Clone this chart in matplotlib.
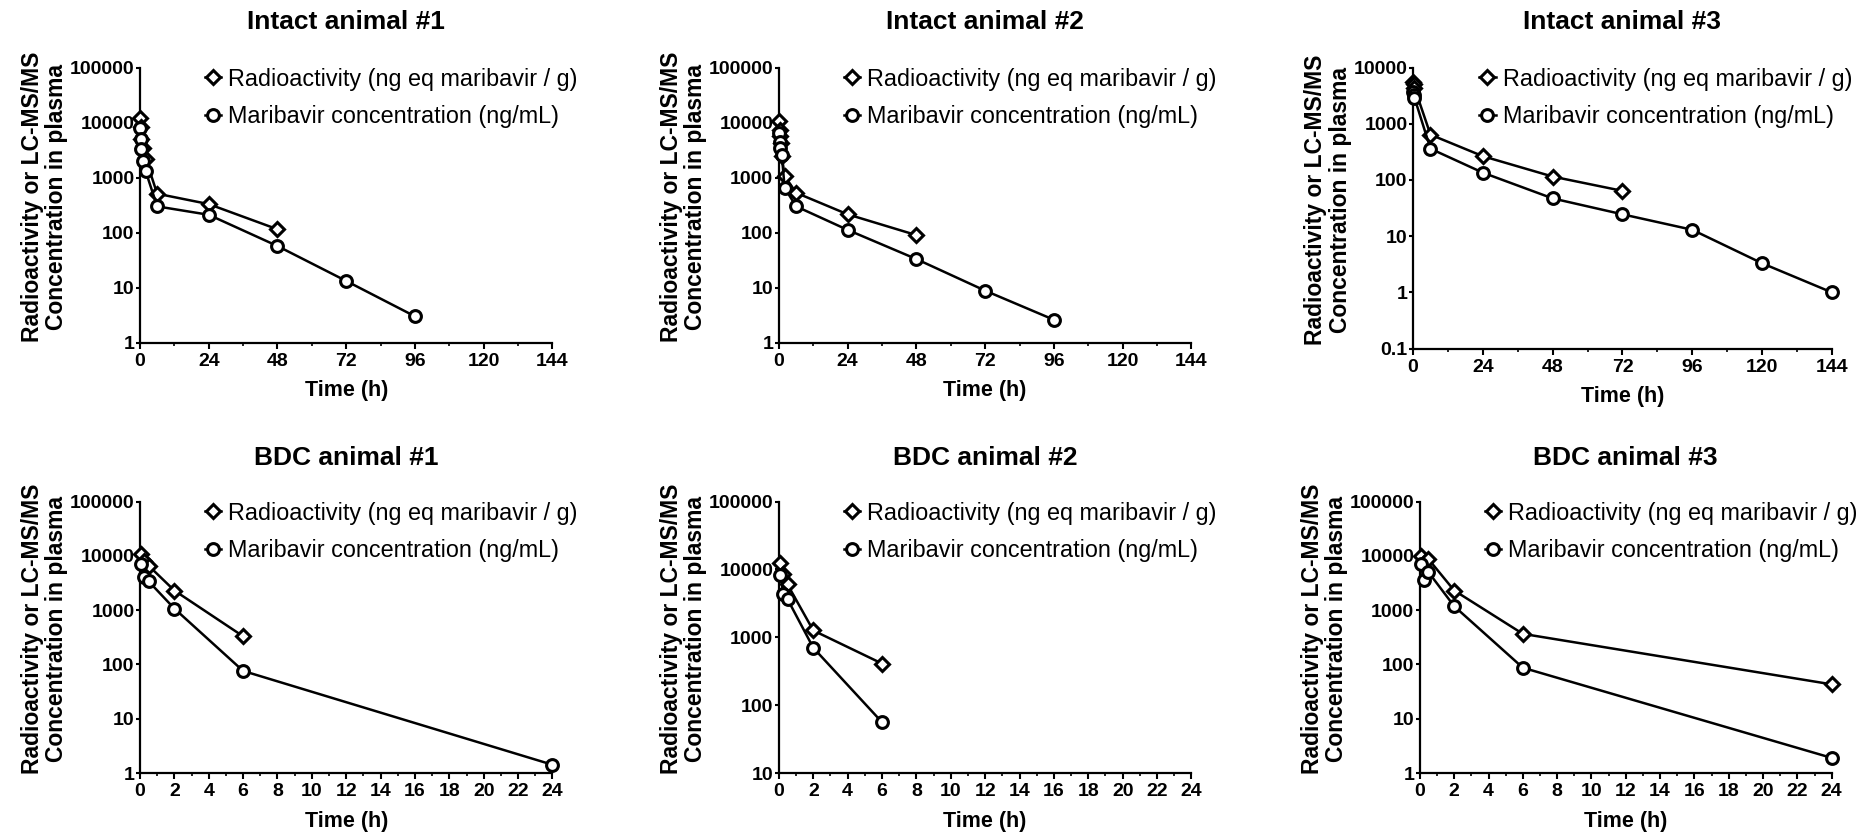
import matplotlib
matplotlib.use("Agg")
import matplotlib.pyplot as plt
from matplotlib.ticker import FixedLocator, MultipleLocator

plt.rcParams["font.family"] = ["Liberation Sans", "DejaVu Sans"]

# ---- data (time in h, concentration) ----
intact1_rad_t = [0.083, 0.25, 0.5, 1, 2, 6, 24, 48]
intact1_rad = [12000, 8300, 5100, 3400, 2200, 510, 330, 115]
intact1_mbv_t = [0.083, 0.25, 0.5, 1, 2, 6, 24, 48, 72, 96]
intact1_mbv = [8000, 5000, 3300, 2000, 1300, 300, 211, 57, 13.2, 3.0]

intact2_rad_t = [0.083, 0.25, 0.5, 0.75, 1, 2, 6, 24, 48]
intact2_rad = [10600, 7500, 5700, 4300, 2450, 1070, 530, 215, 90]
intact2_mbv_t = [0.083, 0.25, 0.5, 1, 2, 6, 24, 48, 72, 96]
intact2_mbv = [6500, 4500, 3500, 2600, 650, 300, 112, 33, 8.8, 2.6]

intact3_rad_t = [0.083, 0.25, 0.5, 6, 24, 48, 72]
intact3_rad = [5600, 5000, 4400, 640, 265, 115, 64]
intact3_mbv_t = [0.083, 0.25, 0.5, 6, 24, 48, 72, 96, 120, 144]
intact3_mbv = [3600, 3300, 2900, 360, 135, 47, 24.5, 13, 3.3, 1.0]

bdc1_rad_t = [0.083, 0.25, 0.5, 2, 6]
bdc1_rad = [11000, 8100, 6600, 2300, 330]
bdc1_mbv_t = [0.083, 0.25, 0.5, 2, 6, 24]
bdc1_mbv = [7000, 4150, 3400, 1070, 76, 1.42]

bdc2_rad_t = [0.083, 0.25, 0.5, 2, 6]
bdc2_rad = [12500, 8500, 6000, 1260, 410]
bdc2_mbv_t = [0.083, 0.25, 0.5, 2, 6]
bdc2_mbv = [8400, 4400, 3650, 700, 56]

bdc3_rad_t = [0.083, 0.25, 0.5, 2, 6, 24]
bdc3_rad = [10000, 7500, 8700, 2300, 366, 43]
bdc3_mbv_t = [0.083, 0.25, 0.5, 2, 6, 24]
bdc3_mbv = [7000, 3650, 5000, 1180, 87, 1.9]

titles = ["Intact animal #1", "Intact animal #2", "Intact animal #3",
          "BDC animal #1", "BDC animal #2", "BDC animal #3"]
rad_label = "Radioactivity (ng eq maribavir / g)"
mbv_label = "Maribavir concentration (ng/mL)"
ylabel = "Radioactivity or LC-MS/MS\nConcentration in plasma"
xlabel = "Time (h)"

intact_xticks = [0, 24, 48, 72, 96, 120, 144]
bdc_xticks = list(range(0, 25, 2))

panels = [
    (intact1_rad_t, intact1_rad, intact1_mbv_t, intact1_mbv, [1, 10, 100, 1000, 10000, 100000]),
    (intact2_rad_t, intact2_rad, intact2_mbv_t, intact2_mbv, [1, 10, 100, 1000, 10000, 100000]),
    (intact3_rad_t, intact3_rad, intact3_mbv_t, intact3_mbv, [0.1, 1, 10, 100, 1000, 10000]),
    (bdc1_rad_t, bdc1_rad, bdc1_mbv_t, bdc1_mbv, [1, 10, 100, 1000, 10000, 100000]),
    (bdc2_rad_t, bdc2_rad, bdc2_mbv_t, bdc2_mbv, [10, 100, 1000, 10000, 100000]),
    (bdc3_rad_t, bdc3_rad, bdc3_mbv_t, bdc3_mbv, [1, 10, 100, 1000, 10000, 100000]),
]

# axes rectangles in figure fraction
rects = [
    [0.0753, 0.5892, 0.2219, 0.3297],
    [0.4190, 0.5892, 0.2219, 0.3297],
    [0.7601, 0.5820, 0.2253, 0.3370],
    [0.0753, 0.0731, 0.2219, 0.3255],
    [0.4190, 0.0731, 0.2219, 0.3255],
    [0.7638, 0.0731, 0.2215, 0.3255],
]

fig = plt.figure(figsize=(18.59, 8.34), dpi=100)

for i, (rt, rv, mt, mv, yt) in enumerate(panels):
    ax = fig.add_axes(rects[i])
    ax.plot(rt, rv, color="black", lw=1.8, marker="D", ms=7.5, mew=2.2,
            mfc="white", mec="black", clip_on=False, zorder=3, label=rad_label)
    ax.plot(mt, mv, color="black", lw=1.8, marker="o", ms=8.5, mew=2.2,
            mfc="white", mec="black", clip_on=False, zorder=3, label=mbv_label)

    ax.set_yscale("log")
    ax.set_ylim(yt[0], yt[-1])
    ax.yaxis.set_major_locator(FixedLocator(yt))
    ax.yaxis.set_minor_locator(FixedLocator([]))
    ax.set_yticklabels([f"{v:g}" for v in yt])

    if i < 3:
        ax.set_xlim(0, 144)
        ax.set_xticks(intact_xticks)
        ax.xaxis.set_minor_locator(MultipleLocator(12))
        pad = 28
    else:
        ax.set_xlim(0, 24)
        ax.set_xticks(bdc_xticks)
        ax.xaxis.set_minor_locator(MultipleLocator(1))
        pad = 26
    ax.set_title(titles[i], fontsize=19, fontweight="bold", pad=pad)

    for s in ["top", "right"]:
        ax.spines[s].set_visible(False)
    for s in ["left", "bottom"]:
        ax.spines[s].set_linewidth(1.6)

    ax.tick_params(axis="y", which="major", direction="out", length=3, width=1.5, pad=1)
    ax.tick_params(axis="x", which="major", direction="out", length=4, width=1.5, pad=3.5)
    ax.tick_params(which="minor", direction="out", length=2.5, width=1.2)
    for lab in ax.get_xticklabels() + ax.get_yticklabels():
        lab.set_fontweight("bold")
        lab.set_fontsize(14)

    ax.set_xlabel(xlabel, fontsize=15.5, fontweight="bold", labelpad=7.5)
    ax.set_ylabel(ylabel, fontsize=16.5, fontweight="bold", labelpad=1,
                  linespacing=1.1)
    ax.yaxis.label.set_y(0.53)

    ax.legend(loc="upper left", bbox_to_anchor=(0.158, 1.0), frameon=False,
              fontsize=16.8, handlelength=0.7, handletextpad=0.3,
              labelspacing=0.62, borderpad=0, borderaxespad=0)

fig.savefig("out.png", dpi=100)
